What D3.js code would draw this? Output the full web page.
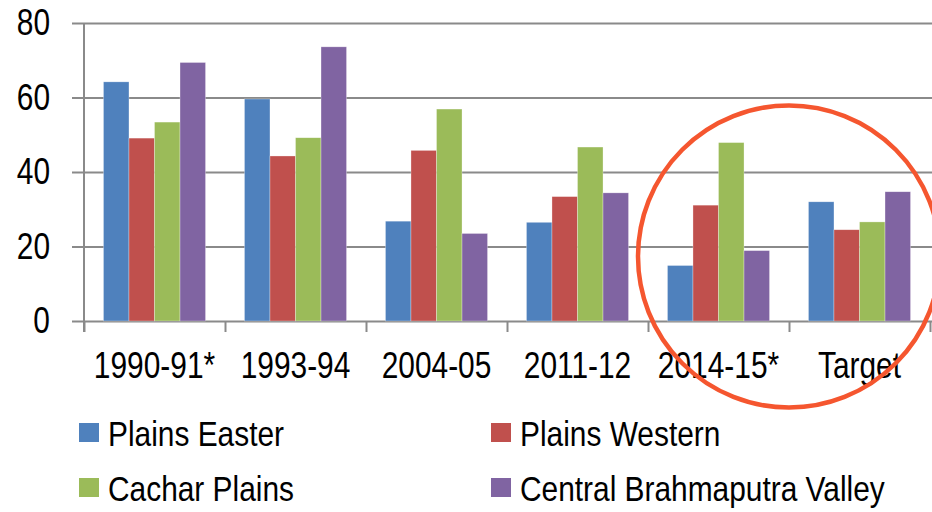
<!DOCTYPE html>
<html>
<head>
<meta charset="utf-8">
<script src="https://cdn.jsdelivr.net/npm/d3@7"></script>
<style>
  body { margin: 0; background: #fff; }
  svg text { font-family: "Liberation Sans", Arial, sans-serif; fill: #000; }
</style>
</head>
<body>
<div id="chart"></div>
<script>
(function(){
  var width = 932;
  var height = 512;

  // data
  var periods = ["1990-91*", "1993-94", "2004-05", "2011-12", "2014-15*", "Target"];
  var seriesNames = ["Plains Easter", "Plains Western", "Cachar Plains", "Central Brahmaputra Valley"];
  var plainsEastern = [64.2, 59.6, 26.8, 26.5, 14.9, 32.0];
  var plainsWestern = [49.1, 44.3, 45.8, 33.4, 31.1, 24.5];
  var cacharPlains = [53.4, 49.2, 56.9, 46.7, 47.9, 26.6];
  var centralBrahmaputra = [69.4, 73.6, 23.5, 34.4, 18.9, 34.7];
  var yTicks = [0, 20, 40, 60, 80];

  var colors = ["#4f81bd", "#c0504d", "#9bbb59", "#8064a2"];
  var allSeries = [plainsEastern, plainsWestern, cacharPlains, centralBrahmaputra];
  var narrow = 0.83; // original uses a condensed face

  var svg = d3.select("#chart")
    .append("svg")
    .attr("width", width)
    .attr("height", height);

  var x0 = 84, x1 = 930;
  var x = d3.scaleBand().domain(periods).range([x0, x1]).paddingInner(0.276).paddingOuter(0.138);
  var xs = d3.scaleBand().domain(d3.range(seriesNames.length)).range([0, x.bandwidth()]);
  var xb = d3.scaleLinear().domain([0, periods.length]).range([x0, x1]);
  var y = d3.scaleLinear().domain([0, 80]).range([321, 23]);

  // gridlines + y labels
  var yAxis = svg.append("g")
    .attr("transform", "translate(72,0)")
    .call(d3.axisLeft(y).tickValues(yTicks).tickSize(-(width - 72)).tickPadding(22));
  yAxis.select(".domain").remove();
  yAxis.selectAll("line").attr("stroke", "#8a8a8a").attr("stroke-width", 2);
  yAxis.selectAll("text").style("font-size", "36px");

  // bars
  var groups = svg.append("g").selectAll("g")
    .data(periods)
    .enter().append("g")
    .attr("transform", function(d){ return "translate(" + x(d) + ",0)"; });

  groups.selectAll("rect")
    .data(function(d, i){ return allSeries.map(function(s, k){ return {k: k, v: s[i]}; }); })
    .enter().append("rect")
    .attr("x", function(d){ return xs(d.k); })
    .attr("width", xs.bandwidth())
    .attr("y", function(d){ return y(d.v); })
    .attr("height", function(d){ return y(0) - y(d.v); })
    .attr("fill", function(d){ return colors[d.k]; })
    .attr("stroke", "#ffffff")
    .attr("stroke-opacity", 0.5)
    .attr("stroke-width", 0.6);

  // category boundary ticks
  var tickAxis = svg.append("g")
    .attr("transform", "translate(0," + y(0) + ")")
    .call(d3.axisBottom(xb).tickValues(d3.range(periods.length + 1)).tickSize(11).tickFormat(""));
  tickAxis.select(".domain").remove();
  tickAxis.selectAll("line").attr("stroke", "#8a8a8a").attr("stroke-width", 2);

  // x labels
  var xAxis = svg.append("g")
    .attr("transform", "translate(0," + y(0) + ")")
    .call(d3.axisBottom(x).tickSize(0).tickPadding(31));
  xAxis.select(".domain").remove();
  xAxis.selectAll("text").style("font-size", "36px");

  // axis labels: narrow with textLength
  svg.selectAll(".tick text").each(function(){
    var w = this.getComputedTextLength();
    d3.select(this).attr("textLength", w * narrow).attr("lengthAdjust", "spacingAndGlyphs");
  });

  // y axis line
  svg.append("line")
    .attr("x1", x0).attr("x2", x0)
    .attr("y1", y(80)).attr("y2", y(0) + 11)
    .attr("stroke", "#8a8a8a").attr("stroke-width", 2);

  // legend
  var legend = svg.append("g").selectAll("g")
    .data(seriesNames)
    .enter().append("g")
    .attr("transform", function(d, i){
      return "translate(" + (i % 2 === 0 ? 79 : 491) + "," + (423 + Math.floor(i / 2) * 55) + ")";
    });
  legend.append("rect")
    .attr("width", 20).attr("height", 19)
    .attr("fill", function(d, i){ return colors[i]; });
  legend.append("text")
    .attr("transform", "translate(29,23) scale(" + narrow + ",1)")
    .style("font-size", "36px")
    .text(function(d){ return d; });

  // red highlight circle
  svg.append("circle")
    .attr("cx", 789).attr("cy", 256.5).attr("r", 151)
    .attr("fill", "none")
    .attr("stroke", "#f5562f")
    .attr("stroke-width", 4.5);
})();
</script>
</body>
</html>
